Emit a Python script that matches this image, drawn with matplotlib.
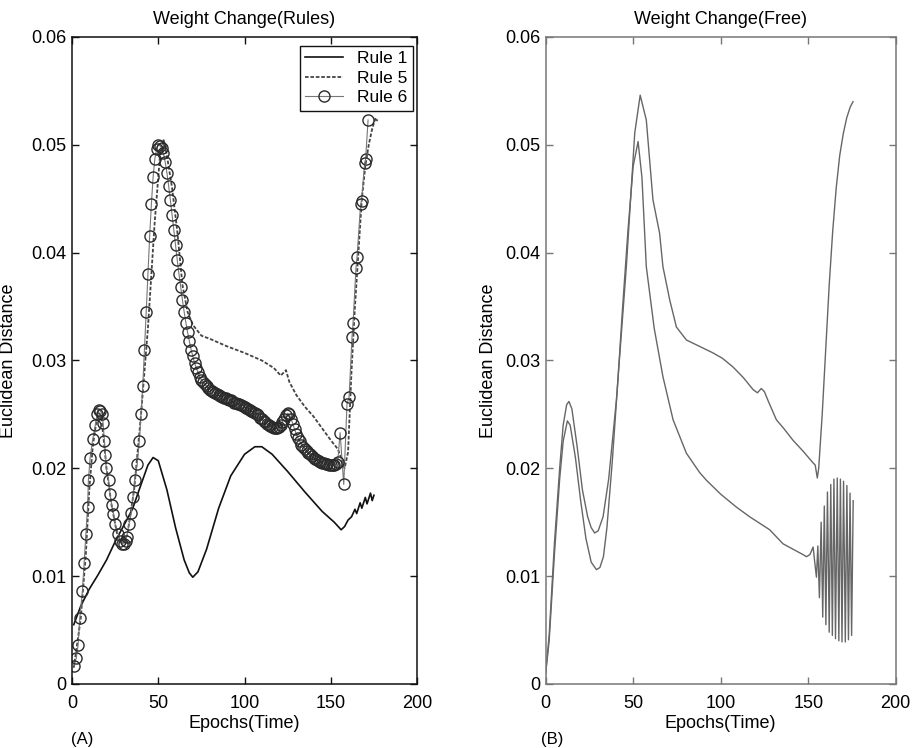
import matplotlib
matplotlib.use("Agg")
import matplotlib.pyplot as plt
import numpy as np

plt.rcParams["font.family"] = ["Liberation Sans", "DejaVu Sans"]

# ---- panel A : weight change under the rules ----
rule1_epochs = [1, 5, 10, 15, 20, 25, 30, 35, 40, 44, 47, 50, 55, 60, 65, 68, 70, 73,
                78, 85, 92, 100, 106, 110, 116, 125, 135, 145, 152, 156, 158, 160,
                162, 164, 165, 167, 168, 170, 171, 173, 174, 175]
rule1_dist = [0.0055, 0.0072, 0.0088, 0.0101, 0.0115, 0.0132, 0.0147, 0.0162, 0.0185,
              0.0203, 0.0210, 0.0207, 0.0180, 0.0145, 0.0115, 0.0103, 0.0099, 0.0104,
              0.0125, 0.0163, 0.0193, 0.0213, 0.0220, 0.0220, 0.0213, 0.0197, 0.0178,
              0.0160, 0.0150, 0.0143, 0.0146, 0.0152, 0.0155, 0.0162, 0.0158, 0.0168,
              0.0163, 0.0173, 0.0167, 0.0177, 0.0170, 0.0175]

rule5_epochs = [1, 5, 8, 10, 12, 15, 17, 20, 23, 26, 29, 32, 36, 40, 44, 48, 51, 53,
                55, 58, 61, 64, 67, 70, 75, 80, 90, 100, 110, 117, 121, 124, 126, 130,
                135, 140, 145, 150, 154, 156, 158, 160, 162, 164, 166, 168, 170, 172,
                174, 176, 177]
rule5_dist = [0.0015, 0.0060, 0.0120, 0.0180, 0.0220, 0.0253, 0.0248, 0.0200, 0.0165,
              0.0140, 0.0130, 0.0138, 0.0180, 0.0250, 0.0330, 0.0430, 0.0490, 0.0505,
              0.0490, 0.0460, 0.0420, 0.0370, 0.0345, 0.0333, 0.0323, 0.0320, 0.0313,
              0.0307, 0.0300, 0.0293, 0.0286, 0.0291, 0.0280, 0.0268, 0.0257, 0.0248,
              0.0237, 0.0226, 0.0218, 0.0210, 0.0200, 0.0215, 0.0290, 0.0350, 0.0400,
              0.0450, 0.0480, 0.0500, 0.0515, 0.0525, 0.0522]

# rule 6 is sampled every epoch; the three pieces are read separately
rule6_early_epochs = [1, 2.5, 3.5, 4.5, 6, 7, 8, 9, 9.5, 10.5, 12, 13.5, 14.5, 15.5,
                      16.5, 17.5, 18, 18.8, 19.4, 19.8, 21.2, 22, 23, 24, 25, 26.8,
                      28, 29, 30, 31, 31.6, 33, 34.4, 35.3, 36.3, 37.8, 39, 40, 41,
                      42, 43, 44, 45, 46, 47, 48, 49, 50, 51]
rule6_early_dist = [0.0017, 0.0024, 0.0036, 0.0061, 0.0086, 0.0112, 0.0139, 0.0164,
                    0.0189, 0.0210, 0.0227, 0.0240, 0.0250, 0.0254, 0.0253, 0.0250,
                    0.0242, 0.0225, 0.0212, 0.0200, 0.0189, 0.0176, 0.0166, 0.0158,
                    0.0148, 0.0139, 0.0133, 0.0130, 0.0130, 0.0133, 0.0136, 0.0148,
                    0.0159, 0.0173, 0.0189, 0.0204, 0.0225, 0.0250, 0.0276, 0.0310,
                    0.0345, 0.0380, 0.0415, 0.0445, 0.0470, 0.0487, 0.0496, 0.0500,
                    0.0499]
rule6_mid_start = 52
rule6_mid_dist = [0.0497, 0.0492, 0.0484, 0.0474, 0.0462, 0.0449, 0.0435, 0.0421,
                  0.0407, 0.0393, 0.0380, 0.0368, 0.0356, 0.0345, 0.0335, 0.0326,
                  0.0318, 0.0310, 0.0304, 0.0298, 0.0293, 0.0289, 0.0285, 0.0282,
                  0.0280, 0.0278, 0.0276, 0.0274, 0.0273, 0.0272, 0.0271, 0.0270,
                  0.0269, 0.0268, 0.0267, 0.0266, 0.0265, 0.0265, 0.0264, 0.0263,
                  0.0263, 0.0262, 0.0261, 0.0261, 0.0260, 0.0260, 0.0259, 0.0258,
                  0.0257, 0.0256, 0.0255, 0.0254, 0.0253, 0.0252, 0.0251, 0.0250,
                  0.0249, 0.0247, 0.0246, 0.0244, 0.0243, 0.0241, 0.0240, 0.0239,
                  0.0238, 0.0237, 0.0237, 0.0237, 0.0238, 0.0240, 0.0243, 0.0246,
                  0.0249, 0.0251, 0.0250, 0.0246, 0.0241, 0.0236, 0.0232, 0.0228,
                  0.0225, 0.0222, 0.0220, 0.0218, 0.0216, 0.0214, 0.0213, 0.0211,
                  0.0210, 0.0209, 0.0208, 0.0207, 0.0206, 0.0205, 0.0205, 0.0204,
                  0.0204, 0.0203, 0.0203, 0.0203, 0.0203, 0.0204, 0.0206]
rule6_late_epochs = [155.4, 157.5, 159.4, 160.6, 162.3, 162.9, 164.6, 165.2, 167.3,
                     167.8, 169.6, 170.2, 171.6]
rule6_late_dist = [0.0233, 0.0185, 0.0260, 0.0266, 0.0322, 0.0335, 0.0386, 0.0396,
                   0.0445, 0.0448, 0.0483, 0.0487, 0.0523]

# ---- panel B : free weight change ----
upper_epochs = [0, 2, 5, 8, 10, 12, 13.3, 15, 18, 21, 24, 26, 28, 30, 32.8, 36, 40.4,
                46.1, 50.9, 54, 57.5, 61.3, 65.1, 67, 70.9, 74.7, 80.4, 88, 95.6, 101,
                107, 113, 118.5, 121, 123.2, 125, 127, 131.8, 136, 141.3, 147, 152.8,
                154, 155.2, 156, 158, 160, 162, 164, 166, 168, 170, 172, 174, 175.6]
upper_dist = [0.0010, 0.0045, 0.0130, 0.0200, 0.0240, 0.0259, 0.0262, 0.0255, 0.0220,
              0.0180, 0.0155, 0.0145, 0.0140, 0.0142, 0.0155, 0.0190, 0.0263, 0.0387,
              0.0511, 0.0546, 0.0523, 0.0449, 0.0418, 0.0387, 0.0356, 0.0331, 0.0319,
              0.0313, 0.0307, 0.0302, 0.0294, 0.0284, 0.0273, 0.0270, 0.0274, 0.0271,
              0.0263, 0.0245, 0.0237, 0.0226, 0.0216, 0.0205, 0.0203, 0.0191, 0.0200,
              0.0250, 0.0310, 0.0370, 0.0420, 0.0460, 0.0490, 0.0510, 0.0525, 0.0535,
              0.0540]

lower_epochs = [0, 2, 5, 8, 10, 12.4, 14, 17, 20, 23, 26, 29, 31, 33, 35, 38, 41, 44,
                47, 50, 52.8, 55, 57.5, 62, 67, 72.8, 80.4, 88, 91.8, 100, 109, 116.6,
                128, 135.6, 147, 149, 151, 152.8, 153.8, 154.7, 155.5, 156.4, 157.4,
                158.3, 159.2, 160.1, 161.0, 162.0, 162.9, 163.8, 164.7, 165.6, 166.6,
                167.5, 168.4, 169.3, 170.2, 171.2, 172.1, 173.0, 173.9, 174.8, 175.7]
lower_dist = [0.0010, 0.0040, 0.0120, 0.0190, 0.0225, 0.0244, 0.0240, 0.0210, 0.0170,
              0.0135, 0.0113, 0.0106, 0.0108, 0.0118, 0.0145, 0.0205, 0.0275, 0.0350,
              0.0420, 0.0480, 0.0503, 0.0470, 0.0387, 0.0330, 0.0285, 0.0245, 0.0214,
              0.0196, 0.0189, 0.0176, 0.0164, 0.0155, 0.0143, 0.0130, 0.0120, 0.0118,
              0.0120, 0.0127, 0.0112, 0.0099, 0.0128, 0.0080, 0.0150, 0.0062, 0.0165,
              0.0055, 0.0178, 0.0048, 0.0185, 0.0045, 0.0190, 0.0042, 0.0191, 0.0040,
              0.0190, 0.0039, 0.0188, 0.0039, 0.0184, 0.0041, 0.0177, 0.0045, 0.0170]

x_ticks = [0, 50, 100, 150, 200]
y_ticks = [0, 0.01, 0.02, 0.03, 0.04, 0.05, 0.06]
y_labels = ["0", "0.01", "0.02", "0.03", "0.04", "0.05", "0.06"]


def style_axis(ax, spine_color):
    ax.set_xlim(0, 200)
    ax.set_ylim(0, 0.06)
    ax.set_xticks(x_ticks)
    ax.set_yticks(y_ticks)
    ax.set_yticklabels(y_labels)
    ax.tick_params(direction="in", top=True, right=True, length=5, width=1,
                   labelsize=13, color=spine_color)
    ax.tick_params(axis="x", pad=8)
    ax.tick_params(axis="y", pad=4)
    for sp in ax.spines.values():
        sp.set_color(spine_color)
        sp.set_linewidth(1.1)
    ax.set_xlabel("Epochs(Time)", fontsize=13, labelpad=2)
    ax.set_ylabel("Euclidean Distance", fontsize=13)


fig = plt.figure(figsize=(9.14, 7.48), dpi=100)
ax_a = fig.add_axes([0.0788, 0.0856, 0.3775, 0.865])
ax_b = fig.add_axes([0.597, 0.0856, 0.383, 0.865])

# panel A
ax_a.plot(rule1_epochs, rule1_dist, color="#111111", linewidth=1.2, label="Rule 1")
ax_a.plot(rule5_epochs, rule5_dist, color="#444444", linewidth=1.3,
          linestyle=(0, (2, 1)), label="Rule 5")
rule6_epochs = (rule6_early_epochs
                + list(range(rule6_mid_start, rule6_mid_start + len(rule6_mid_dist)))
                + rule6_late_epochs)
rule6_dist = rule6_early_dist + rule6_mid_dist + rule6_late_dist
ax_a.plot(rule6_epochs, rule6_dist, color="#777777", linewidth=0.8, marker="o",
          markersize=8, markerfacecolor="none", markeredgecolor="#2a2a2a",
          markeredgewidth=1.0, label="Rule 6")
style_axis(ax_a, "#111111")
ax_a.yaxis.set_label_coords(-0.16, 0.5)
ax_a.set_title("Weight Change(Rules)", fontsize=13, pad=9)
leg = ax_a.legend(loc="upper right", bbox_to_anchor=(0.988, 0.986), fontsize=12.5,
                  frameon=True, fancybox=False, framealpha=1, edgecolor="#111111",
                  handlelength=2.2, borderpad=0.3, labelspacing=0.25,
                  handletextpad=0.8, borderaxespad=0)
leg.get_frame().set_linewidth(1.0)

# panel B
ax_b.plot(upper_epochs, upper_dist, color="#666666", linewidth=1.0)
ax_b.plot(lower_epochs, lower_dist, color="#666666", linewidth=1.0)
style_axis(ax_b, "#777777")
ax_b.yaxis.set_label_coords(-0.14, 0.5)
ax_b.set_title("Weight Change(Free)", fontsize=13, pad=9)

fig.text(0.0897, 0.0107, "(A)", fontsize=12, ha="center", va="center")
fig.text(0.604, 0.0107, "(B)", fontsize=12, ha="center", va="center")

fig.savefig("out.png", dpi=100, facecolor="white")
